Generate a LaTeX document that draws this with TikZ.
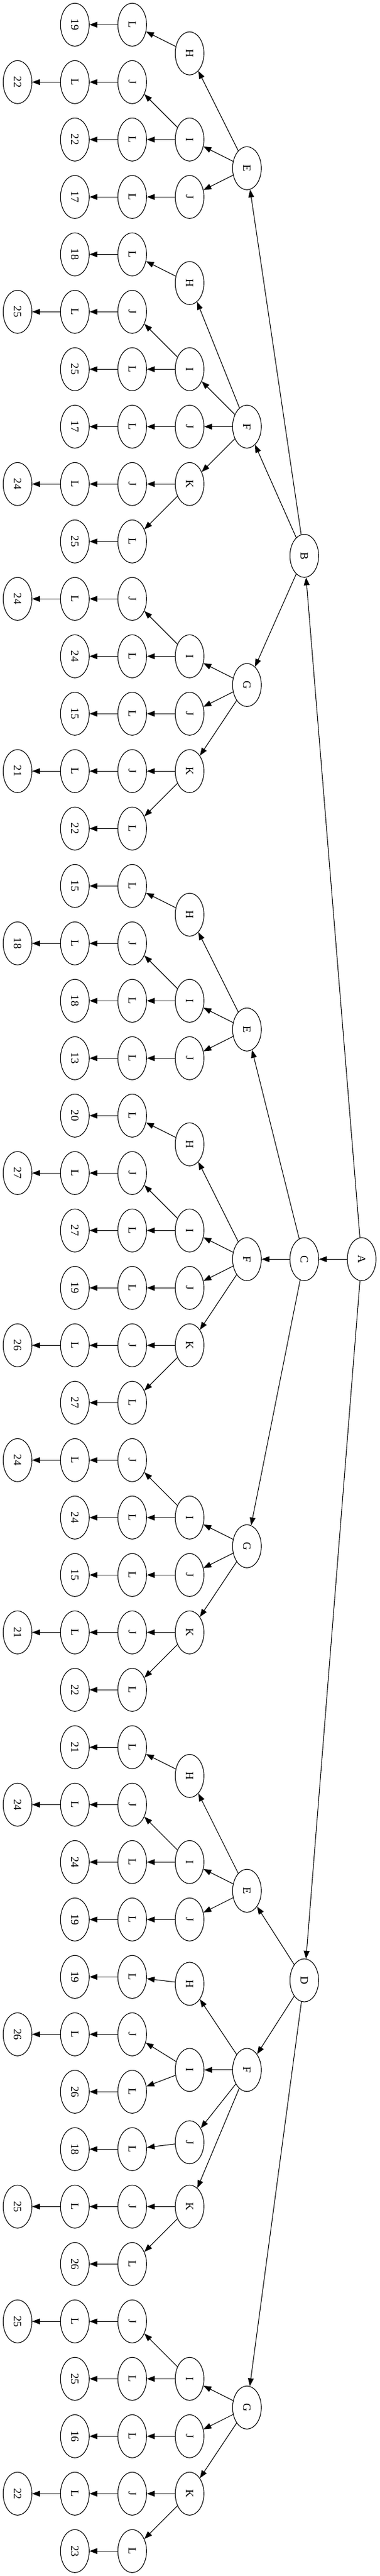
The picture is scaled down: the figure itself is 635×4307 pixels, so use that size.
\documentclass[tikz,border=0pt]{standalone}
\usepackage{fontspec}
\setmainfont{Liberation Serif}
\usetikzlibrary{shapes.geometric,arrows.meta}
\tikzset{
  nd/.style={draw=black, ellipse, line width=1.1pt, minimum width=48pt, minimum height=72pt, inner sep=0pt,
             font=\fontsize{18.67}{20}\selectfont},
  ar/.style={draw=black, line width=1.1pt, -{Triangle[length=13pt,width=9.6pt]}}
}
\newcommand\mynd[4]{\node[nd] (#1) at ({605.3-96*#2},{-41.3-96*#3}) {\rotatebox{-90}{#4}};}
\newcommand\myed[2]{\draw[ar] (#1) -- (#2);}
\newcommand\trH[4]{%
 \mynd{#1H}{3}{#2}{H}\mynd{#1HL}{4}{#3}{L}\mynd{#1HLn}{5}{#3}{#4}%
 \myed{#1}{#1H}\myed{#1H}{#1HL}\myed{#1HL}{#1HLn}}
\newcommand\trI[6]{%
 \mynd{#1I}{3}{#2}{I}\mynd{#1IJ}{4}{#3}{J}\mynd{#1IJL}{5}{#3}{L}\mynd{#1IJLn}{6}{#3}{#4}%
 \mynd{#1IL}{4}{#5}{L}\mynd{#1ILn}{5}{#5}{#6}%
 \myed{#1}{#1I}\myed{#1I}{#1IJ}\myed{#1IJ}{#1IJL}\myed{#1IJL}{#1IJLn}\myed{#1I}{#1IL}\myed{#1IL}{#1ILn}}
\newcommand\trJ[4]{%
 \mynd{#1J}{3}{#2}{J}\mynd{#1JL}{4}{#3}{L}\mynd{#1JLn}{5}{#3}{#4}%
 \myed{#1}{#1J}\myed{#1J}{#1JL}\myed{#1JL}{#1JLn}}
\newcommand\trK[5]{%
 \mynd{#1K}{3}{#2}{K}\mynd{#1KJ}{4}{#2}{J}\mynd{#1KJL}{5}{#2}{L}\mynd{#1KJLn}{6}{#2}{#3}%
 \mynd{#1KL}{4}{#4}{L}\mynd{#1KLn}{5}{#4}{#5}%
 \myed{#1}{#1K}\myed{#1K}{#1KJ}\myed{#1KJ}{#1KJL}\myed{#1KJL}{#1KJLn}\myed{#1K}{#1KL}\myed{#1KL}{#1KLn}}
\begin{document}
\begin{tikzpicture}[x=1pt,y=1pt]
\fill[white] (0,0) rectangle (635,-4307);
\useasboundingbox (0,0) rectangle (635,-4307);
\mynd{A}{0}{21.5}{A}
\mynd{B}{1}{9.25}{B}\myed{A}{B}
\mynd{C}{1}{21.5}{C}\myed{A}{C}
\mynd{D}{1}{34.06}{D}\myed{A}{D}
% B subtree
\mynd{BE}{2}{2.5}{E}\myed{B}{BE}
\trH{BE}{0.5}{0}{19}
\trI{BE}{2}{1}{22}{2}{22}
\trJ{BE}{3}{3}{17}
\mynd{BF}{2}{7}{F}\myed{B}{BF}
\trH{BF}{4.5}{4}{18}
\trI{BF}{6}{5}{25}{6}{25}
\trJ{BF}{7}{7}{17}
\trK{BF}{8}{24}{9}{25}
\mynd{BG}{2}{11.5}{G}\myed{B}{BG}
\trI{BG}{11}{10}{24}{11}{24}
\trJ{BG}{12}{12}{15}
\trK{BG}{13}{21}{14}{22}
% C subtree
\mynd{CE}{2}{17.5}{E}\myed{C}{CE}
\trH{CE}{15.5}{15}{15}
\trI{CE}{17}{16}{18}{17}{18}
\trJ{CE}{18}{18}{13}
\mynd{CF}{2}{21.5}{F}\myed{C}{CF}
\trH{CF}{19.5}{19}{20}
\trI{CF}{21}{20}{27}{21}{27}
\trJ{CF}{22}{22}{19}
\trK{CF}{23}{26}{24}{27}
\mynd{CG}{2}{26.5}{G}\myed{C}{CG}
\trI{CG}{26}{25}{24}{26}{24}
\trJ{CG}{27}{27}{15}
\trK{CG}{28}{21}{29}{22}
% D subtree
\mynd{DE}{2}{32.5}{E}\myed{D}{DE}
\trH{DE}{30.5}{30}{21}
\trI{DE}{32}{31}{24}{32}{24}
\trJ{DE}{33}{33}{19}
\mynd{DF}{2}{35.62}{F}\myed{D}{DF}
\trH{DF}{34.12}{34}{19}
\trI{DF}{35.62}{35}{26}{36}{26}
\trJ{DF}{36.88}{37}{18}
\trK{DF}{38}{25}{39}{26}
\mynd{DG}{2}{41.5}{G}\myed{D}{DG}
\trI{DG}{41}{40}{25}{41}{25}
\trJ{DG}{42}{42}{16}
\trK{DG}{43}{22}{44}{23}
\end{tikzpicture}
\end{document}
